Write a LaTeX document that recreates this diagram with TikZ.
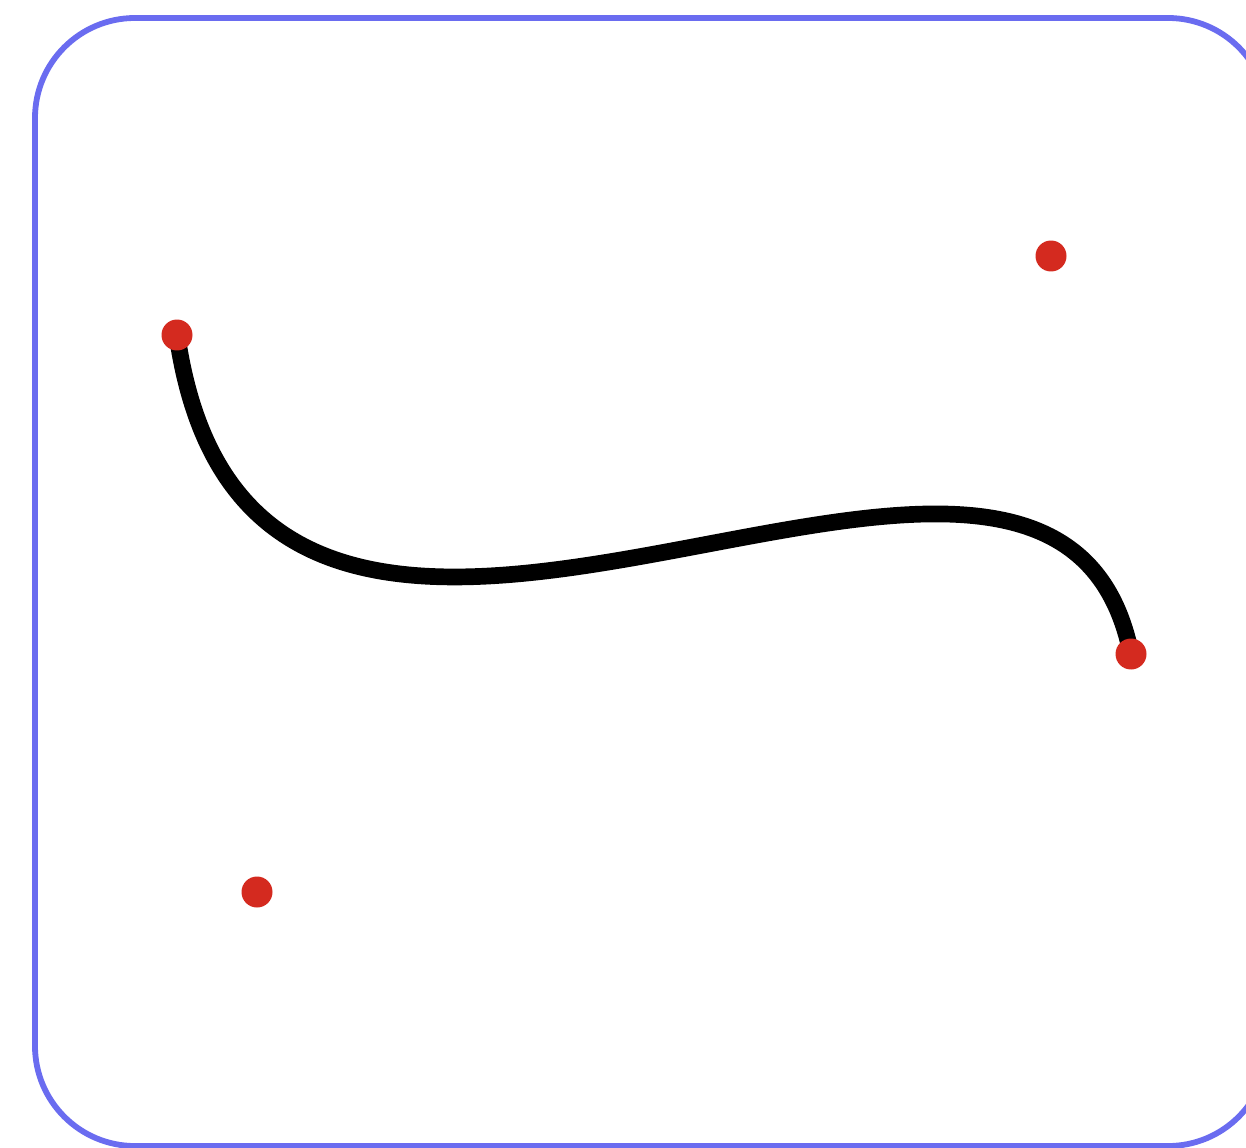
\documentclass[tikz,border=0pt]{standalone}
\definecolor{framecol}{HTML}{6A6CF0}
\definecolor{dotcol}{HTML}{D42A1F}
\tikzset{
  frame/.style={draw=framecol, line width=3.3pt, rounded corners=2cm},
  curveline/.style={draw=black, line width=9.5pt},
  ctrl/.style={circle, fill=dotcol, inner sep=0pt, minimum size=0.62cm}
}
\begin{document}
\begin{tikzpicture}[x=0.02cm,y=-0.02cm]
\useasboundingbox (0,0) rectangle (1246,1148);
\clip (0,0) rectangle (1246,1148);
\fill[white] (0,0) rectangle (1246,1148);
\draw[frame] (35,18) rectangle (1268,1146);
\coordinate (p0) at (177,335);
\coordinate (c1) at (257,892);
\coordinate (c2) at (1051,256);
\coordinate (p3) at (1131,654);
\draw[curveline] (p0) .. controls (c1) and (c2) .. (p3);
\node[ctrl] (d0) at (p0) {};
\node[ctrl] (d1) at (c1) {};
\node[ctrl] (d2) at (c2) {};
\node[ctrl] (d3) at (p3) {};
\end{tikzpicture}
\end{document}
